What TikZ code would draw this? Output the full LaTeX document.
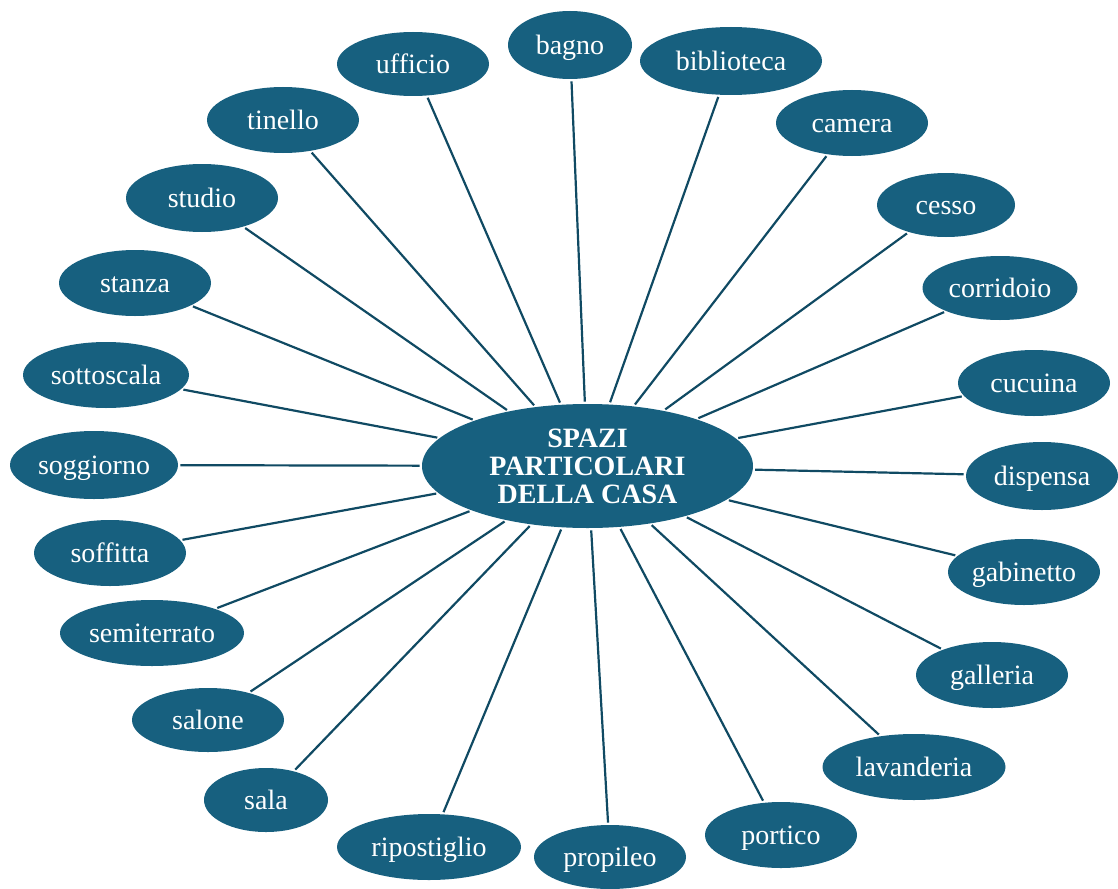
\documentclass[tikz,border=0pt]{standalone}
\usepackage{fontspec}
\setmainfont{Liberation Serif}
\usetikzlibrary{shapes.geometric}
\definecolor{nodeblue}{RGB}{23,96,127}
\definecolor{linkblue}{RGB}{16,74,99}
\tikzset{
  room/.style={ellipse, fill=nodeblue, text=white, inner sep=0pt,
    minimum width=76pt, minimum height=33pt, text height=12pt, text depth=2.4pt,
    font=\fontsize{14}{14}\selectfont},
  hub/.style={ellipse, fill=nodeblue, text=white, inner sep=0pt,
    minimum width=165.5pt, minimum height=62pt,
    align=center, font=\fontsize{14}{14}\selectfont\bfseries},
  spoke/.style={draw=linkblue, line width=1.1pt, shorten >=1pt, shorten <=1pt}
}
\begin{document}
\begin{tikzpicture}[x=0.5pt,y=-0.5pt]
\useasboundingbox (0,0) rectangle (1118,888);

% centre
\node[hub] (casa) at (587.5,466) {SPAZI\\PARTICOLARI\\DELLA CASA};

% top row
\node[room, minimum width=62pt, minimum height=34pt] (bagno) at (570,45) {bagno};
\node[room, minimum height=32pt] (ufficio) at (413,64) {ufficio};
\node[room, minimum width=91pt, minimum height=34pt] (biblioteca) at (731,61) {biblioteca};
\node[room] (tinello) at (283,120) {tinello};
\node[room] (camera) at (852,123) {camera};

% left side
\node[room, minimum height=34pt] (studio) at (202,198) {studio};
\node[room] (stanza) at (135,283) {stanza};
\node[room, minimum width=83pt] (sottoscala) at (106,375) {sottoscala};
\node[room, minimum width=84pt, minimum height=34pt] (soggiorno) at (94,465) {soggiorno};
\node[room] (soffitta) at (110,553) {soffitta};
\node[room, minimum width=92pt] (semiterrato) at (152,633) {semiterrato};
\node[room, minimum height=32pt] (salone) at (208,720) {salone};
\node[room, minimum width=62pt, minimum height=32pt] (sala) at (266,800) {sala};

% right side
\node[room, minimum width=69pt, minimum height=32pt] (cesso) at (946,205) {cesso};
\node[room, minimum width=77.5pt, minimum height=32pt] (corridoio) at (1000,288) {corridoio};
\node[room] (cucuina) at (1034,383) {cucuina};
\node[room, minimum height=34pt] (dispensa) at (1042,476) {dispensa};
\node[room] (gabinetto) at (1024,572) {gabinetto};
\node[room] (galleria) at (992,675) {galleria};
\node[room, minimum width=91.5pt] (lavanderia) at (914,767) {lavanderia};

% bottom row
\node[room] (portico) at (781,835) {portico};
\node[room, minimum width=92pt] (ripostiglio) at (429,847) {ripostiglio};
\node[room, minimum height=32pt] (propileo) at (610,857) {propileo};

% spokes
\draw[spoke] (casa) -- (bagno);
\draw[spoke] (casa) -- (ufficio);
\draw[spoke] (casa) -- (biblioteca);
\draw[spoke] (casa) -- (tinello);
\draw[spoke] (casa) -- (camera);
\draw[spoke] (casa) -- (studio);
\draw[spoke] (casa) -- (cesso);
\draw[spoke] (casa) -- (stanza);
\draw[spoke] (casa) -- (corridoio);
\draw[spoke] (casa) -- (sottoscala);
\draw[spoke] (casa) -- (cucuina);
\draw[spoke] (casa) -- (soggiorno);
\draw[spoke] (casa) -- (dispensa);
\draw[spoke] (casa) -- (soffitta);
\draw[spoke] (casa) -- (gabinetto);
\draw[spoke] (casa) -- (semiterrato);
\draw[spoke] (casa) -- (galleria);
\draw[spoke] (casa) -- (salone);
\draw[spoke] (casa) -- (lavanderia);
\draw[spoke] (casa) -- (sala);
\draw[spoke] (casa) -- (portico);
\draw[spoke] (casa) -- (ripostiglio);
\draw[spoke] (casa) -- (propileo);

\end{tikzpicture}
\end{document}
